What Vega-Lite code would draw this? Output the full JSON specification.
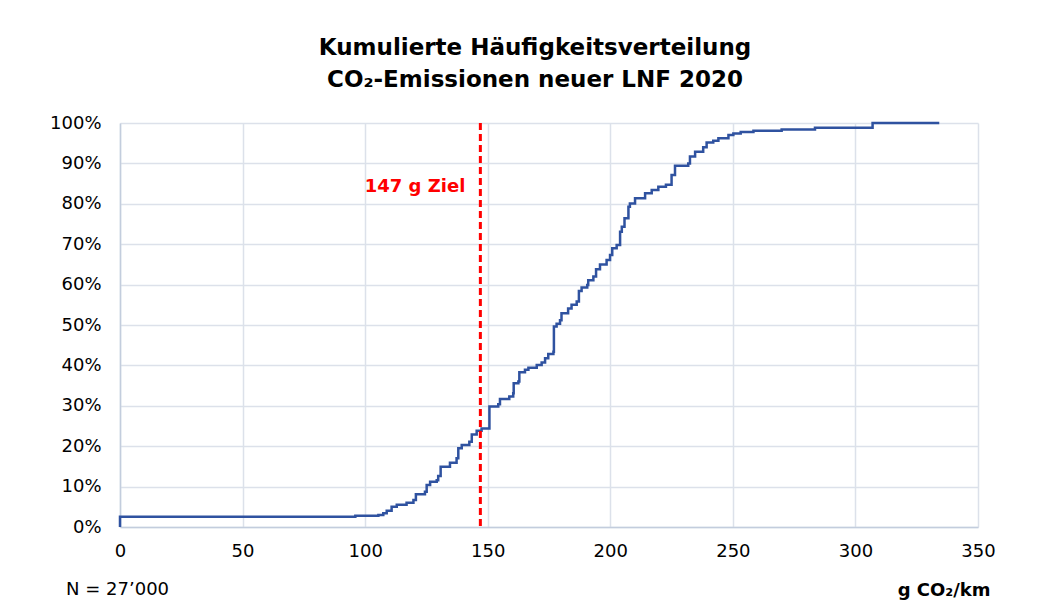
{
  "$schema": "https://vega.github.io/schema/vega-lite/v6.json",
  "width": 858,
  "height": 404,
  "autosize": {"type": "none"},
  "padding": {"left": 120, "top": 123, "right": 68, "bottom": 80},
  "background": "white",
  "config": {
    "view": {"stroke": null},
    "font": "DejaVu Sans",
    "axis": {
      "grid": true,
      "gridColor": "#DCE1EA",
      "gridWidth": 1.5,
      "domainColor": "#C3CDDD",
      "domainWidth": 1.5,
      "ticks": false,
      "tickSize": 0,
      "labelFlush": false,
      "labelFont": "DejaVu Sans",
      "labelFontSize": 18,
      "labelColor": "#000000"
    }
  },
  "title": {
    "text": ["Kumulierte Häufigkeitsverteilung", "CO₂-Emissionen neuer LNF 2020"],
    "font": "DejaVu Sans",
    "fontSize": 23,
    "fontWeight": "bold",
    "color": "#000000",
    "lineHeight": 32,
    "anchor": "middle",
    "dx": -14,
    "offset": 22
  },
  "datasets": {
    "cdf": [
      {"g": 0, "p": 0},
      {"g": 0, "p": 2.55},
      {"g": 96, "p": 2.8},
      {"g": 105.4, "p": 3.0},
      {"g": 107.4, "p": 3.4},
      {"g": 108.8, "p": 4.0},
      {"g": 110.8, "p": 5.0},
      {"g": 112.9, "p": 5.5},
      {"g": 116.9, "p": 6.0},
      {"g": 119.7, "p": 6.7},
      {"g": 120.7, "p": 8.1},
      {"g": 124.4, "p": 8.7},
      {"g": 125.1, "p": 10.4},
      {"g": 126.5, "p": 11.2},
      {"g": 129.2, "p": 11.6},
      {"g": 129.8, "p": 12.6},
      {"g": 130.8, "p": 14.9},
      {"g": 134.6, "p": 15.9},
      {"g": 137.3, "p": 17.0},
      {"g": 138.0, "p": 19.5},
      {"g": 139.4, "p": 20.3},
      {"g": 142.5, "p": 21.1},
      {"g": 143.5, "p": 22.9},
      {"g": 145.5, "p": 23.8},
      {"g": 147.5, "p": 24.4},
      {"g": 150.7, "p": 29.8},
      {"g": 154.3, "p": 30.4},
      {"g": 155.0, "p": 31.7},
      {"g": 158.8, "p": 32.3},
      {"g": 160.4, "p": 33.1},
      {"g": 160.6, "p": 35.6},
      {"g": 162.5, "p": 36.0},
      {"g": 162.9, "p": 38.3},
      {"g": 165.2, "p": 38.9},
      {"g": 166.6, "p": 39.4},
      {"g": 170.0, "p": 40.1},
      {"g": 172.0, "p": 40.7},
      {"g": 173.4, "p": 41.8},
      {"g": 174.7, "p": 42.8},
      {"g": 176.8, "p": 43.4},
      {"g": 177.0, "p": 49.6},
      {"g": 178.1, "p": 50.3},
      {"g": 179.5, "p": 51.2},
      {"g": 180.1, "p": 52.9},
      {"g": 182.8, "p": 54.1},
      {"g": 184.2, "p": 55.0},
      {"g": 186.3, "p": 55.8},
      {"g": 187.2, "p": 58.4},
      {"g": 188.3, "p": 59.3},
      {"g": 190.6, "p": 59.9},
      {"g": 191.0, "p": 61.1},
      {"g": 193.1, "p": 62.0},
      {"g": 194.2, "p": 63.8},
      {"g": 195.8, "p": 65.0},
      {"g": 198.5, "p": 66.1},
      {"g": 199.9, "p": 67.3},
      {"g": 200.8, "p": 69.0},
      {"g": 202.6, "p": 69.8},
      {"g": 204.0, "p": 73.1},
      {"g": 204.7, "p": 74.3},
      {"g": 205.8, "p": 76.4},
      {"g": 207.4, "p": 79.3},
      {"g": 208.0, "p": 80.1},
      {"g": 210.1, "p": 81.4},
      {"g": 214.2, "p": 82.6},
      {"g": 216.9, "p": 83.4},
      {"g": 219.6, "p": 84.2},
      {"g": 222.7, "p": 84.7},
      {"g": 225.0, "p": 87.1},
      {"g": 226.4, "p": 89.4},
      {"g": 231.8, "p": 90.0},
      {"g": 232.5, "p": 91.7},
      {"g": 234.6, "p": 92.9},
      {"g": 237.9, "p": 94.0},
      {"g": 239.3, "p": 95.2},
      {"g": 242.0, "p": 95.6},
      {"g": 244.1, "p": 96.2},
      {"g": 248.2, "p": 97.0},
      {"g": 250.2, "p": 97.4},
      {"g": 253.2, "p": 97.8},
      {"g": 258.4, "p": 98.1},
      {"g": 269.9, "p": 98.4},
      {"g": 283.5, "p": 98.8},
      {"g": 307.0, "p": 100},
      {"g": 334.2, "p": 100}
    ],
    "ziel": [{"wert": 147, "anteil": 83, "label": "147 g Ziel"}],
    "note": [{"wert": -22, "anteil": -16.8, "label": "N = 27’000"}]
  },
  "layer": [
    {
      "data": {"name": "cdf"},
      "mark": {"type": "line", "interpolate": "step-after", "color": "#2F52A0", "strokeWidth": 2.5},
      "encoding": {
        "x": {
          "field": "g",
          "type": "quantitative",
          "scale": {"domain": [0, 350], "nice": false},
          "axis": {
            "values": [0, 50, 100, 150, 200, 250, 300, 350],
            "labelPadding": 15,
            "title": "g CO₂/km",
            "titleFont": "DejaVu Sans",
            "titleFontSize": 18,
            "titleFontWeight": "bold",
            "titleColor": "#000000",
            "titleAlign": "right",
            "titleAnchor": "end",
            "titleBaseline": "alphabetic",
            "titleX": 870,
            "titleY": 68
          }
        },
        "y": {
          "field": "p",
          "type": "quantitative",
          "scale": {"domain": [0, 100], "nice": false},
          "axis": {
            "values": [0, 10, 20, 30, 40, 50, 60, 70, 80, 90, 100],
            "labelExpr": "datum.value + '%'",
            "labelPadding": 19,
            "title": null
          }
        }
      }
    },
    {
      "data": {"name": "ziel"},
      "mark": {"type": "rule", "color": "#FF0000", "strokeWidth": 3, "strokeDash": [7, 4]},
      "encoding": {"x": {"field": "wert", "type": "quantitative"}}
    },
    {
      "data": {"name": "ziel"},
      "mark": {"type": "text", "align": "right", "baseline": "alphabetic", "dx": -15, "font": "DejaVu Sans", "fontSize": 18, "fontWeight": "bold", "color": "#FF0000"},
      "encoding": {
        "x": {"field": "wert", "type": "quantitative"},
        "y": {"field": "anteil", "type": "quantitative"},
        "text": {"field": "label"}
      }
    },
    {
      "data": {"name": "note"},
      "mark": {"type": "text", "align": "left", "baseline": "alphabetic", "font": "DejaVu Sans", "fontSize": 18, "color": "#000000"},
      "encoding": {
        "x": {"field": "wert", "type": "quantitative"},
        "y": {"field": "anteil", "type": "quantitative"},
        "text": {"field": "label"}
      }
    }
  ]
}
